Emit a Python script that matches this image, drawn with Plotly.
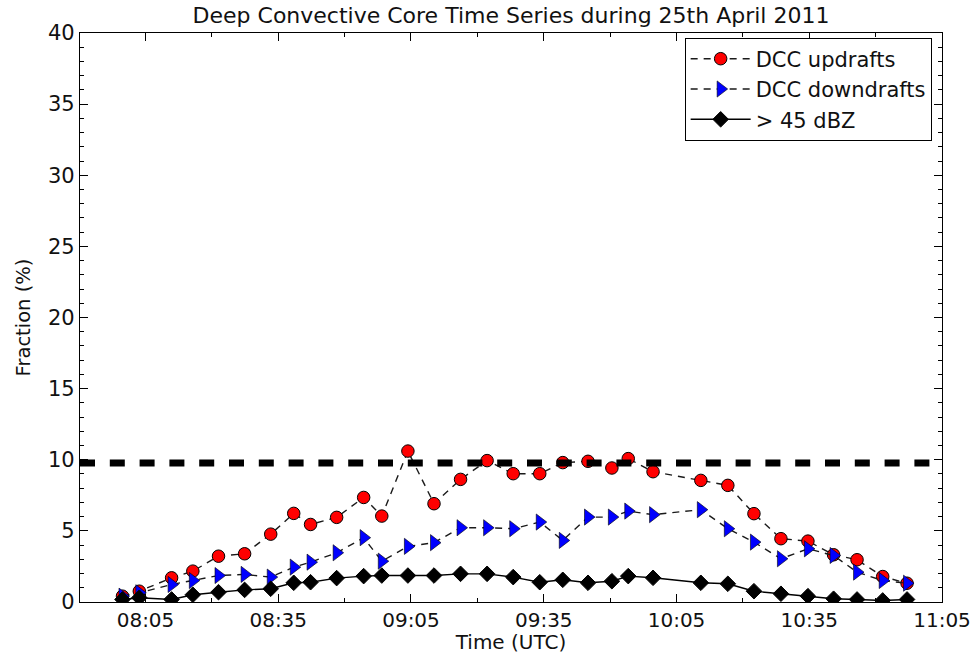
import plotly.graph_objects as go

DATE = "2011-04-25"

# Observation times (UTC)
times = ["07:59:48", "08:03:36", "08:10:54", "08:15:42", "08:21:30", "08:27:24",
         "08:33:18", "08:38:30", "08:42:18", "08:48:12", "08:54:18", "08:58:24",
         "09:04:18", "09:10:12", "09:16:12", "09:22:12", "09:28:06", "09:34:06",
         "09:39:18", "09:45:00", "09:50:24", "09:54:06", "09:59:42", "10:10:30",
         "10:16:36", "10:22:30", "10:28:36", "10:34:42", "10:40:30", "10:45:48",
         "10:51:36", "10:57:06"]

# Fractions (%)
dcc_updrafts = [0.41, 0.76, 1.70, 2.17, 3.22, 3.39, 4.77, 6.23, 5.45, 5.95, 7.35, 6.04,
                10.61, 6.91, 8.62, 9.94, 9.02, 9.02, 9.80, 9.89, 9.42, 10.08, 9.16,
                8.55, 8.20, 6.21, 4.45, 4.28, 3.32, 2.97, 1.79, 1.32]
dcc_downdrafts = [0.41, 0.65, 1.23, 1.51, 1.86, 1.94, 1.75, 2.45, 2.80, 3.46, 4.52, 2.87,
                  3.91, 4.17, 5.22, 5.22, 5.15, 5.62, 4.33, 5.97, 5.97, 6.39, 6.14,
                  6.49, 5.15, 4.21, 3.04, 3.74, 3.27, 2.10, 1.51, 1.32]
dbz45 = [0.18, 0.30, 0.18, 0.51, 0.69, 0.85, 0.93, 1.35, 1.39, 1.68, 1.82, 1.86,
         1.86, 1.86, 1.98, 1.98, 1.75, 1.39, 1.56, 1.35, 1.46, 1.82, 1.70,
         1.35, 1.28, 0.76, 0.58, 0.41, 0.23, 0.18, 0.11, 0.18]

threshold = 9.78

series_names = ["DCC updrafts", "DCC downdrafts", "> 45 dBZ"]
x_range = ["07:50:12", "11:05:00"]
x_tick0 = "08:05:00"
y_range = [0, 40]

x = [f"{DATE} {t}" for t in times]

FONT = "DejaVu Sans"

fig = go.Figure()
fig.add_trace(go.Scatter(
    x=x, y=dcc_updrafts, name=series_names[0], mode="lines+markers",
    line=dict(color="#1a1a1a", width=1.4, dash="7px,6px"),
    marker=dict(symbol="circle", size=12.5, color="#ff0000",
                line=dict(color="#000000", width=1)),
    cliponaxis=True,
))
fig.add_trace(go.Scatter(
    x=x, y=dcc_downdrafts, name=series_names[1], mode="lines+markers",
    line=dict(color="#1a1a1a", width=1.4, dash="7px,6px"),
    marker=dict(symbol="triangle-right", size=14, color="#0000ff",
                line=dict(color="#000000", width=0.6)),
    cliponaxis=True,
))
fig.add_trace(go.Scatter(
    x=x, y=dbz45, name=series_names[2], mode="lines+markers",
    line=dict(color="#000000", width=1.4),
    marker=dict(symbol="diamond", size=12, color="#000000",
                line=dict(color="#000000", width=1)),
    cliponaxis=True,
))

fig.add_hline(y=threshold, line=dict(color="#000000", width=7, dash="15px,14.8px"),
              layer="above")

axis_common = dict(
    showline=True, linecolor="#000000", linewidth=1.2, mirror="allticks",
    ticks="inside", ticklen=8, tickwidth=1, tickcolor="#000000",
    showgrid=False, zeroline=False, automargin=False,
)

fig.update_xaxes(
    type="date",
    range=[f"{DATE} {x_range[0]}", f"{DATE} {x_range[1]}"],
    tick0=f"{DATE} {x_tick0}", dtick=30 * 60 * 1000, tickformat="%H:%M",
    minor=dict(dtick=15 * 60 * 1000, tick0=f"{DATE} {x_tick0}", ticks="inside",
               ticklen=4, tickcolor="#000000", showgrid=False),
    tickfont=dict(family=FONT, size=20, color="#111111"),
    title=dict(text="Time (UTC)", font=dict(family=FONT, size=20, color="#111111"),
               standoff=4),
    **axis_common,
)
fig.update_yaxes(
    range=y_range, tick0=0, dtick=5,
    minor=dict(dtick=1, ticks="inside", ticklen=4, tickcolor="#000000", showgrid=False),
    tickfont=dict(family=FONT, size=21, color="#111111"),
    title=dict(text="Fraction (%)", font=dict(family=FONT, size=19.5, color="#111111"),
               standoff=12),
    **axis_common,
)

fig.update_layout(
    width=976, height=654,
    margin=dict(l=80, r=34, t=33, b=52),
    paper_bgcolor="white", plot_bgcolor="white",
    font=dict(family=FONT, color="#111111"),
    title=dict(text="Deep Convective Core Time Series during 25th April 2011",
               font=dict(family=FONT, size=22, color="#111111"),
               x=0.5, xref="paper", xanchor="center", y=0.976, yanchor="middle"),
    legend=dict(x=0.988, y=0.992, xanchor="right", yanchor="top",
                bgcolor="white", bordercolor="#000000", borderwidth=1,
                font=dict(family=FONT, size=21, color="#111111"),
                itemwidth=60, tracegroupgap=0),
    showlegend=True,
)

fig.write_html("out.html")
